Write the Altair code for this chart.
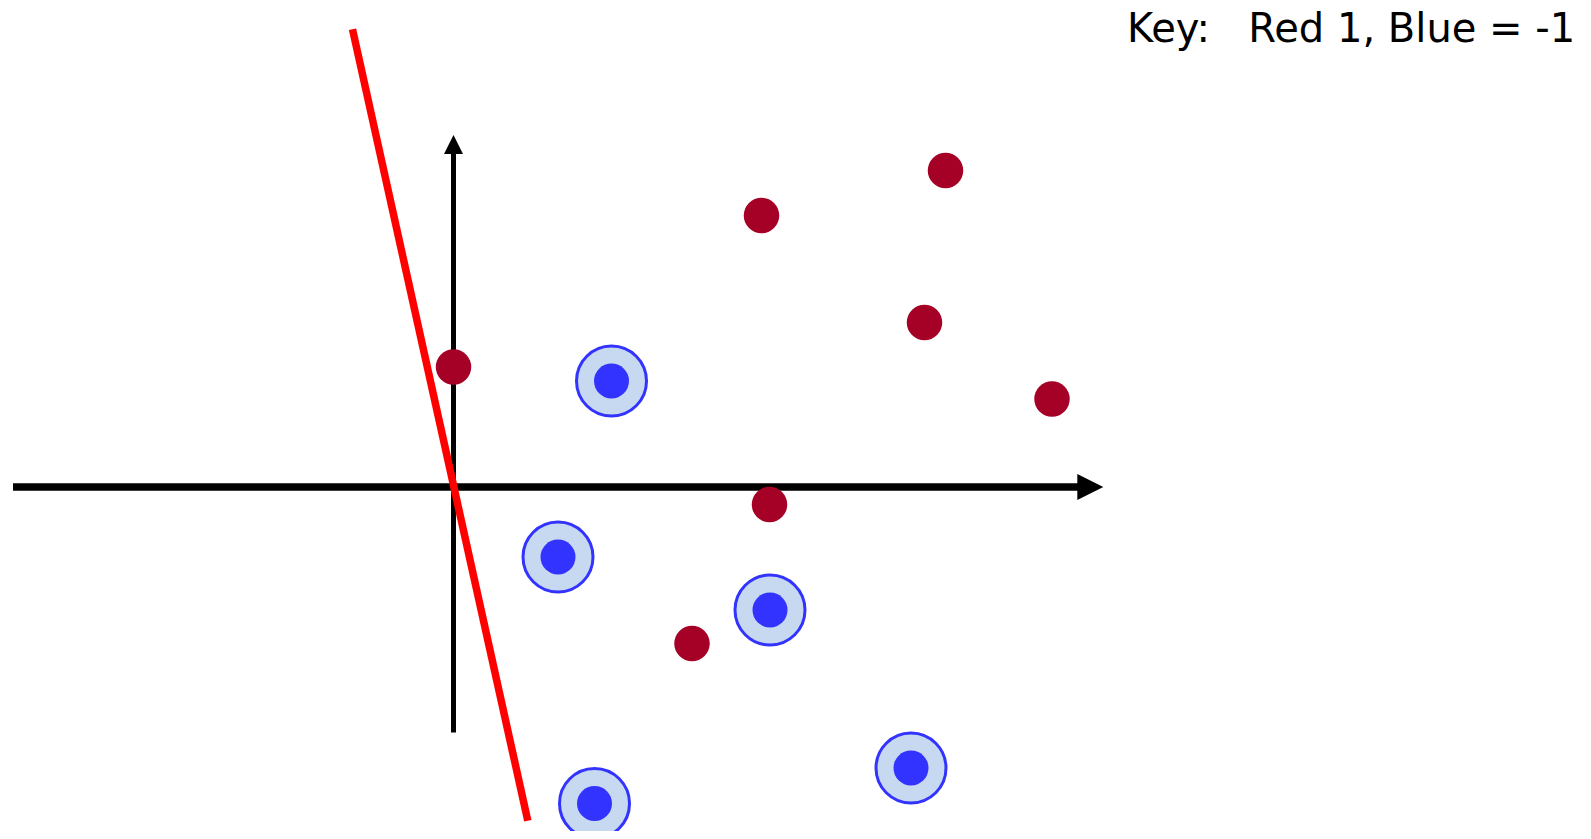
import altair as alt
import pandas as pd

# ---- data (feature-space coordinates, 1 unit = 50 px) ----
red_x = [0.0, 6.16, 9.84, 9.42, 11.97, 6.32, 4.77]
red_y = [2.40, 5.43, 6.33, 3.29, 1.76, -0.35, -3.13]

blue_x = [3.16, 2.09, 6.33, 9.15, 2.82]
blue_y = [2.12, -1.40, -2.46, -5.62, -6.33]

# separating line (w . x = 0), two end points
sep_x = [-2.02, 1.486]
sep_y = [9.154, -6.674]

# coordinate axes (start, end) and arrow-head positions
haxis_x = [-8.81, 12.6]
vaxis_y = [-4.91, 6.75]
harrow = [12.736, 0.0]
varrow = [0.0, 6.85]

key_text = ["Key:\u00a0\u00a0\u00a0Red 1, Blue = -1"]
key_pos = [13.47, 8.90]

X_DOMAIN = [-8.91, 22.59]
Y_DOMAIN = [-6.88, 9.58]

xs = alt.Scale(domain=X_DOMAIN, nice=False, zero=False)
ys = alt.Scale(domain=Y_DOMAIN, nice=False, zero=False)

def X(f="x"):
    return alt.X(f"{f}:Q", scale=xs, axis=None)

def Y(f="y"):
    return alt.Y(f"{f}:Q", scale=ys, axis=None)

hax = alt.Chart(pd.DataFrame({"x": [haxis_x[0]], "x2": [haxis_x[1]], "y": [0.0]})).mark_rule(
    color="black", strokeWidth=7.5, strokeCap="butt"
).encode(x=X(), x2="x2:Q", y=Y())

vax = alt.Chart(pd.DataFrame({"x": [0.0], "y": [vaxis_y[0]], "y2": [vaxis_y[1]]})).mark_rule(
    color="black", strokeWidth=5, strokeCap="butt"
).encode(x=X(), y=Y(), y2="y2:Q")

hhead = alt.Chart(pd.DataFrame({"x": [harrow[0]], "y": [harrow[1]]})).mark_point(
    shape="M -1 -1 L 1 0 L -1 1 Z", size=676, filled=True, color="black", opacity=1, strokeWidth=0
).encode(x=X(), y=Y())

vhead = alt.Chart(pd.DataFrame({"x": [varrow[0]], "y": [varrow[1]]})).mark_point(
    shape="M -1 1 L 0 -1 L 1 1 Z", size=361, filled=True, color="black", opacity=1, strokeWidth=0
).encode(x=X(), y=Y())

sep = alt.Chart(pd.DataFrame({"x": sep_x, "y": sep_y, "o": [0, 1]})).mark_line(
    color="#FF0000", strokeWidth=7.5, strokeCap="butt"
).encode(x=X(), y=Y(), order="o:O")

blue_df = pd.DataFrame({"x": blue_x, "y": blue_y})
blue_outer = alt.Chart(blue_df).mark_point(
    shape="circle", size=4900, filled=False, fill="#C6D9F1", fillOpacity=1,
    stroke="#3333FF", strokeWidth=3, opacity=1
).encode(x=X(), y=Y())

blue_inner = alt.Chart(blue_df).mark_point(
    shape="circle", size=1225, filled=True, color="#3333FF", opacity=1, strokeWidth=0
).encode(x=X(), y=Y())

red = alt.Chart(pd.DataFrame({"x": red_x, "y": red_y})).mark_point(
    shape="circle", size=1260, filled=True, color="#A50026", opacity=1, strokeWidth=0
).encode(x=X(), y=Y())

key = alt.Chart(pd.DataFrame({"x": [key_pos[0]], "y": [key_pos[1]], "t": key_text})).mark_text(
    align="left", baseline="alphabetic", font="DejaVu Sans", fontSize=40, color="black"
).encode(x=X(), y=Y(), text="t:N")

chart = alt.layer(hax, vax, hhead, vhead, sep, blue_outer, blue_inner, red, key).properties(
    width=1575, height=823, padding=0, autosize=alt.AutoSizeParams(type="none")
).configure_view(stroke=None)

chart.save("out.html", embed_options={"renderer": "svg", "actions": False})
